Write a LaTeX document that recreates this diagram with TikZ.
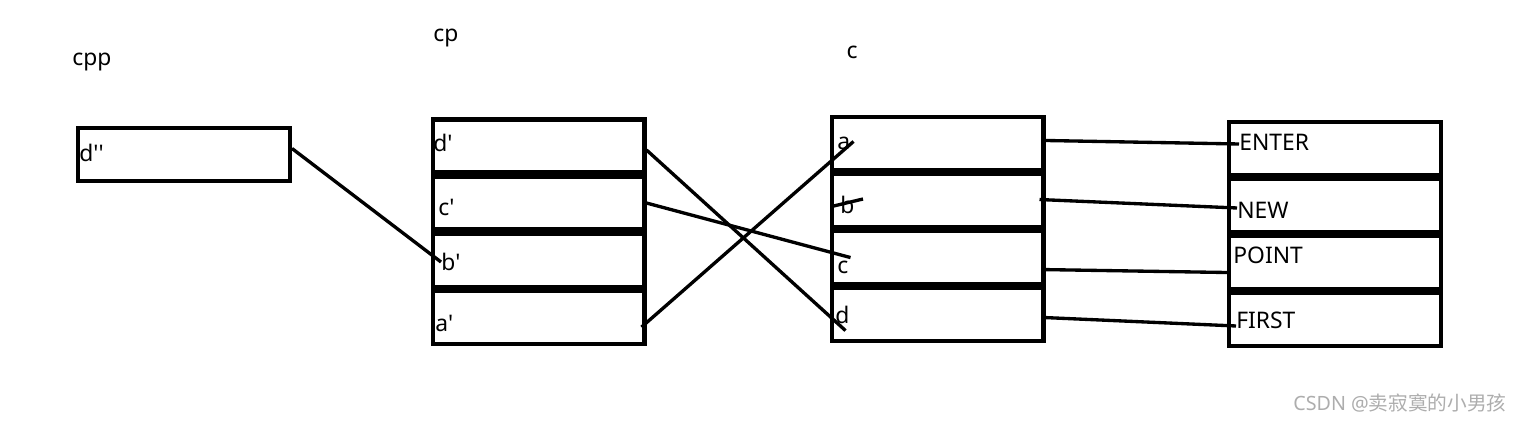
\documentclass[tikz,border=0pt]{standalone}
\usepackage{fontspec}
\setmainfont{Noto Sans}
\newfontfamily\cjk{Noto Sans CJK SC}
\usetikzlibrary{positioning,calc}
\newcommand{\pr}{\textquotesingle}
\tikzset{
    cellbox/.style={draw, line width=2.3pt, minimum width=4.24cm,
        minimum height=1.06cm, inner sep=0pt},
    celltext/.style={anchor=west, inner sep=0pt, font=\fontsize{13}{15}\selectfont},
    varname/.style={inner sep=0pt, font=\fontsize{13}{15}\selectfont},
    ptrline/.style={line width=1.9pt}
}

\begin{document}
\begin{tikzpicture}[x=0.02cm, y=-0.02cm, node distance=0pt]
\useasboundingbox (0,0) rectangle (1522,421);

% variable names
\node[varname] (vcpp) at (92,62) {cpp};
\node[varname] (vcp) at (446,38) {cp};
\node[varname] (vc) at (852,52) {c};

% cpp
\node[cellbox] (dpp) at (184,154.5) {};
\node[celltext] (ldpp) at (79,153) {d\pr\pr};

% cp
\node[cellbox] (pd) at (538.5,146) {};
\node[cellbox, below=of pd] (pc) {};
\node[cellbox, below=of pc] (pb) {};
\node[cellbox, below=of pb] (pa) {};
\node[celltext] (lpd) at (433,143) {d\pr};
\node[celltext] (lpc) at (438,207) {c\pr};
\node[celltext] (lpb) at (441,262) {b\pr};
\node[celltext] (lpa) at (435,323) {a\pr};

% c
\node[cellbox] (qa) at (937.5,143.5) {};
\node[cellbox, below=of qa] (qb) {};
\node[cellbox, below=of qb] (qc) {};
\node[cellbox, below=of qc] (qd) {};
\node[celltext] (lqa) at (837,143) {a};
\node[celltext] (lqb) at (840,205) {b};
\node[celltext] (lqc) at (837,267) {c};
\node[celltext] (lqd) at (835,315) {d};

% strings
\node[cellbox] (en) at (1335,148.5) {};
\node[cellbox, below=of en] (nw) {};
\node[cellbox, below=of nw] (pt) {};
\node[cellbox, below=of pt] (fs) {};
\node[celltext] (len) at (1239,142) {ENTER};
\node[celltext] (lnw) at (1237,210) {NEW};
\node[celltext] (lpt) at (1233,255) {POINT};
\node[celltext] (lfs) at (1236,320) {FIRST};

% pointers
\draw[ptrline] ($(dpp.east)+(0,-6)$) -- (lpb.west);
\draw[ptrline] ($(pd.east)+(0,4)$) -- ($(qd.west)+(16,16)$);
\draw[ptrline] (pc.east) -- ($(qc.west)+(21,0)$);
\draw[ptrline] ($(pa.east)+(-5,10)$) -- ($(qa.west)+(24,-2)$);
\coordinate (bstub) at (863,199);
\draw[ptrline] ($(qb.west)+(2,6)$) -- (bstub);

\draw[ptrline] ($(qa.east)+(0,-3)$) -- ($(len.west)+(0,2)$);
\draw[ptrline] ($(qb.east)+(-6,-1)$) -- ($(lnw.west)+(0,-2)$);
\draw[ptrline] ($(qc.east)+(-3,12)$) -- ($(pt.west)+(3,10)$);
\draw[ptrline] ($(qd.east)+(0,3)$) -- ($(lfs.west)+(0,6)$);

% watermark
\node[inner sep=0pt, text=black!32, font=\fontsize{11.2}{13}\selectfont] (wm) at (1400,403) {CSDN @{\cjk 卖寂寞的小男孩}};
\end{tikzpicture}
\end{document}
